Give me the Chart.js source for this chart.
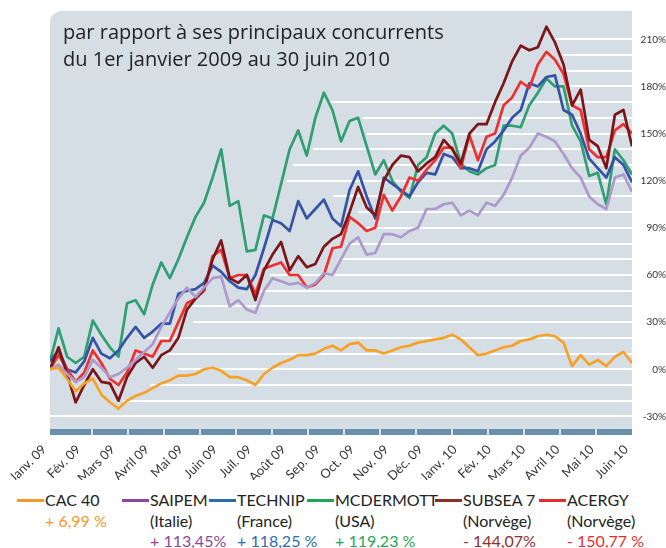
<!DOCTYPE html>
<html lang="fr">
<head>
<meta charset="utf-8">
<title>Parcours boursier</title>
<script src="https://cdn.jsdelivr.net/npm/chart.js@4.4.1/dist/chart.umd.min.js"></script>
<style>
  html, body { margin: 0; padding: 0; background: #fff; }
  #page { position: relative; width: 666px; height: 548px; overflow: hidden;
          font-family: Lato, "Open Sans", sans-serif; color: #222; }
  #chart { position: absolute; left: 0; top: 0; }
  .item { position: absolute; top: 490px; font-size: 16px; line-height: 20.5px; white-space: nowrap; }
  .item .swatch { position: absolute; left: 0; top: 9px; width: 27px; height: 3px; }
  .item .txt { margin-left: 28px; }
</style>
</head>
<body>
<div id="page">
  <canvas id="chart" width="666" height="480"></canvas>
  <div id="legend"></div>
</div>
<script>
// mois affichés sous l'axe (un tick par mois)
const monthLabels = ["Janv. 09", "Fév. 09", "Mars 09", "Avril 09", "Mai 09", "Juin 09",
  "Juil. 09", "Août 09", "Sep. 09", "Oct. 09", "Nov. 09", "Déc. 09", "Janv. 10",
  "Fév. 10", "Mars 10", "Avril 10", "Mai 10", "Juin 10"];
const yTicks = [-30, 0, 30, 60, 90, 120, 150, 180, 210];
const titleLines = ["par rapport à ses principaux concurrents", "du 1er janvier 2009 au 30 juin 2010"];

const seriesNames = ["CAC 40", "SAIPEM", "TECHNIP", "MCDERMOTT", "SUBSEA 7", "ACERGY"];
const countries = ["", "(Italie)", "(France)", "(USA)", "(Norvège)", "(Norvège)"];
const changes = ["+ 6,99 %", "+ 113,45%", "+ 118,25 %", "+ 119,23 %", "- 144,07%", "- 150,77 %"];

// performance en %, un point par quart de mois
const cac40 = [0, 1, -6, -14, -9, -6, -16, -21, -25, -20,
  -17, -15, -12, -9, -7, -4, -4, -3, 0, 1,
  -1, -5, -5, -7, -10, -3, 1, 4, 6, 9,
  9, 10, 13, 15, 12, 16, 17, 12, 12, 10,
  12, 14, 15, 17, 18, 19, 20, 22, 19, 14,
  9, 10, 12, 14, 15, 18, 19, 21, 22, 21,
  17, 2, 9, 3, 6, 2, 8, 11, 4];
const saipem = [0, 3, -3, -8, -5, 6, 1, -5, -3, 1,
  6, 11, 16, 27, 36, 45, 52, 46, 52, 58,
  59, 40, 44, 38, 36, 50, 58, 56, 54, 55,
  52, 55, 61, 60, 70, 80, 84, 73, 74, 86,
  86, 84, 88, 90, 102, 102, 105, 106, 98, 101,
  98, 106, 104, 111, 122, 136, 141, 150, 148, 145,
  137, 128, 122, 110, 105, 102, 122, 124, 113];
const technip = [5, 12, 0, -2, 5, 20, 10, 7, 12, 20,
  27, 20, 24, 29, 29, 48, 50, 51, 55, 66,
  62, 56, 52, 51, 60, 77, 95, 93, 88, 107,
  96, 102, 108, 96, 91, 114, 126, 110, 96, 122,
  118, 114, 110, 119, 125, 124, 137, 135, 128, 128,
  126, 140, 145, 152, 160, 165, 182, 180, 186, 187,
  165, 162, 150, 134, 128, 122, 135, 130, 119];
const mcdermott = [5, 26, 8, 4, 8, 31, 22, 14, 8, 42,
  44, 35, 54, 68, 58, 70, 84, 97, 106, 122,
  140, 104, 107, 75, 76, 98, 96, 118, 140, 152,
  136, 160, 176, 165, 145, 158, 160, 142, 124, 133,
  120, 113, 109, 130, 135, 150, 155, 150, 131, 126,
  124, 128, 130, 155, 155, 154, 168, 176, 185, 180,
  180, 155, 145, 123, 125, 105, 140, 133, 124];
const subsea7 = [0, 14, -3, -21, -10, 0, -8, -9, -20, -5,
  4, 8, 1, 9, 12, 20, 38, 45, 51, 70,
  82, 58, 55, 60, 44, 63, 73, 81, 63, 72,
  65, 67, 78, 83, 86, 100, 116, 103, 98, 120,
  130, 136, 135, 126, 131, 135, 146, 140, 131, 150,
  156, 156, 170, 182, 196, 206, 203, 205, 218, 208,
  194, 168, 178, 146, 142, 128, 162, 165, 142];
const acergy = [0, 9, 0, -8, -2, 12, 4, -6, -10, -2,
  12, 10, 8, 18, 18, 30, 42, 45, 50, 72,
  76, 58, 60, 60, 48, 64, 66, 68, 60, 60,
  52, 54, 60, 77, 78, 97, 93, 88, 90, 111,
  101, 110, 122, 120, 127, 133, 141, 141, 128, 149,
  133, 148, 150, 168, 173, 183, 179, 194, 202, 197,
  188, 168, 165, 140, 135, 135, 152, 156, 150];

// couleurs : tracé / légende
const lineColors = ["#f7a126", "#ad99cb", "#3553a4", "#2f9e70", "#7b1518", "#ec3030"];
const keyColors = ["#f39a2b", "#8e45a0", "#2b6bb3", "#1fa653", "#8f2f2b", "#e62d2d"];

// grille blanche : niveau (%) et mois où la ligne commence
const gridLevels = [-30, -20, -10, 0, 10, 20, 30, 40, 50, 60, 70, 80, 90,
  100, 110, 120, 130, 140, 150, 160, 170, 180, 190, 200, 210];
const gridStartMonths = [0, 2.13, 2.92, 3.74, 3.36, 2.83, 4.18, 4.09, 6.13, 6.43, 8.47, 8.67, 9.05,
  9.0, 8.27, 6.92, 7.1, 7.68, 9.26, 9.14, 8.18, 15.0, 15.04, 14.98, 14.66];

const allSeries = [cac40, saipem, technip, mcdermott, subsea7, acergy];
const toPoints = (vals) => vals.map((v, i) => ({ x: i / 4, y: v }));

const plotBackground = {
  id: "plotBackground",
  beforeDatasetsDraw(chart) {
    const { ctx, chartArea: a } = chart;
    const xs = chart.scales.x;
    const ys = chart.scales.y;
    ctx.save();
    ctx.fillStyle = "#d5dee5";
    ctx.beginPath();
    ctx.roundRect(a.left, a.top, a.right - a.left, a.bottom - a.top, [12, 0, 0, 0]);
    ctx.fill();

    // bande sous le graphique
    ctx.fillStyle = "#6a8fab";
    ctx.fillRect(a.left, a.bottom, a.right - a.left, 6);
    ctx.fillStyle = "#fff";
    for (let k = 1; k <= 15; k++) ctx.fillRect(a.right - 36 * k - 0.75, a.bottom, 1.5, 6);

    ctx.strokeStyle = "#fff";
    ctx.lineWidth = 2;
    gridLevels.forEach((lvl, k) => {
      const py = Math.round(ys.getPixelForValue(lvl));
      ctx.beginPath();
      ctx.moveTo(xs.getPixelForValue(gridStartMonths[k]), py);
      ctx.lineTo(a.right, py);
      ctx.stroke();
    });

    ctx.fillStyle = "#222";
    ctx.font = '20px "Open Sans"';
    ctx.textBaseline = "alphabetic";
    titleLines.forEach((t, i) => ctx.fillText(t, a.left + 13, a.top + 28 + i * 26.5));
    ctx.restore();
  },
};

new Chart(document.getElementById("chart"), {
  type: "line",
  data: {
    // premier jeu dessiné au-dessus
    datasets: [0, 1, 4, 5, 2, 3].map((k) => ({
      label: seriesNames[k],
      data: toPoints(allSeries[k]),
      borderColor: lineColors[k],
    })),
  },
  options: {
    responsive: false,
    animation: false,
    layout: { padding: { left: 50, top: 11, right: 0, bottom: 0 } },
    elements: {
      point: { radius: 0 },
      line: { borderWidth: 2.7, tension: 0, borderJoinStyle: "round" },
    },
    plugins: { legend: { display: false }, tooltip: { enabled: false } },
    scales: {
      x: {
        type: "linear",
        min: 0,
        max: 17,
        grid: { display: false, drawTicks: false },
        border: { display: false },
        afterBuildTicks: (s) => { s.ticks = monthLabels.map((_, i) => ({ value: i })); },
        afterFit: (s) => { s.height = 51; },
        ticks: {
          autoSkip: false,
          minRotation: 45,
          maxRotation: 45,
          padding: 13,
          labelOffset: -6,
          color: "#333",
          font: { family: "Lato", size: 12.8 },
          callback: (v) => monthLabels[v],
        },
      },
      y: {
        position: "right",
        min: -38,
        max: 228,
        grid: { display: false, drawTicks: false },
        border: { display: false },
        afterBuildTicks: (s) => { s.ticks = yTicks.map((v) => ({ value: v })); },
        afterFit: (s) => { s.width = 34; },
        ticks: {
          crossAlign: "far",
          padding: 0,
          color: "#333",
          font: { family: "Lato", size: 10 },
          callback: (v) => v + "%",
        },
      },
    },
  },
  plugins: [plotBackground],
});

// légende en HTML
const legendLeft = [17, 122, 209, 307, 435, 539];
const legend = document.getElementById("legend");
seriesNames.forEach((name, k) => {
  const item = document.createElement("div");
  item.className = "item";
  item.style.left = legendLeft[k] + "px";
  const sw = document.createElement("span");
  sw.className = "swatch";
  sw.style.background = keyColors[k];
  item.appendChild(sw);
  const rows = [[name, "#222"]];
  if (countries[k]) rows.push([countries[k], "#222"]);
  rows.push([changes[k], keyColors[k]]);
  rows.forEach(([t, c]) => {
    const d = document.createElement("div");
    d.className = "txt";
    d.style.color = c;
    d.textContent = t;
    item.appendChild(d);
  });
  legend.appendChild(item);
});
</script>
</body>
</html>
